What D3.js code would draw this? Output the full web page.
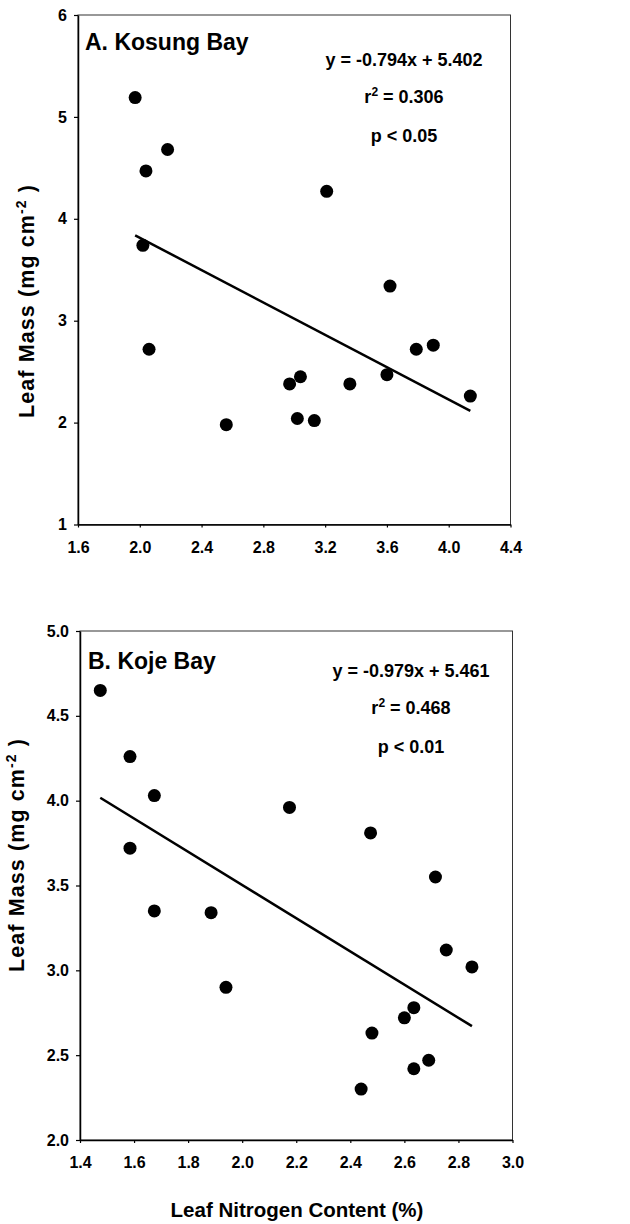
<!DOCTYPE html>
<html>
<head>
<meta charset="utf-8">
<script src="https://cdn.jsdelivr.net/npm/d3@7/dist/d3.min.js"></script>
<style>
  html, body { margin: 0; padding: 0; background: #fff; }
  svg { display: block; }
  text { font-family: "Liberation Sans", Arial, Helvetica, sans-serif; font-weight: bold; fill: #000; }
</style>
</head>
<body>
<svg id="chart" width="630" height="1224"></svg>
<script>
// ---- Data ----
const kosungNitrogen = [1.97, 2.04, 2.18, 2.02, 3.21, 3.62, 2.06, 2.56, 2.97, 3.04, 3.02, 3.13, 3.36, 3.60, 3.79, 3.90, 4.14];
const kosungMass     = [5.19, 4.47, 4.68, 3.74, 4.27, 3.34, 2.72, 1.98, 2.38, 2.45, 2.04, 2.02, 2.38, 2.47, 2.72, 2.76, 2.26];
const kojeNitrogen   = [1.475, 1.585, 1.675, 1.585, 2.175, 2.475, 2.715, 1.675, 1.885, 1.94, 2.755, 2.85, 2.635, 2.60, 2.48, 2.69, 2.635, 2.44];
const kojeMass       = [4.65, 4.26, 4.03, 3.72, 3.96, 3.81, 3.55, 3.35, 3.34, 2.90, 3.12, 3.02, 2.78, 2.72, 2.63, 2.47, 2.42, 2.30];

const panelTitles = ["A. Kosung Bay", "B. Koje Bay"];
const regSlopes = [-0.794, -0.979];
const regIntercepts = [5.402, 5.461];
const eqLabels = ["y = -0.794x + 5.402", "y = -0.979x + 5.461"];
const r2Values = ["0.306", "0.468"];
const pLabels = ["p < 0.05", "p < 0.01"];

const kosungXTicks = [1.6, 2.0, 2.4, 2.8, 3.2, 3.6, 4.0, 4.4];
const kosungYTicks = [1, 2, 3, 4, 5, 6];
const kojeXTicks = [1.4, 1.6, 1.8, 2.0, 2.2, 2.4, 2.6, 2.8, 3.0];
const kojeYTicks = [2.0, 2.5, 3.0, 3.5, 4.0, 4.5, 5.0];

const xTitle = "Leaf Nitrogen Content (%)";

// ---- Layout ----
const svg = d3.select("#chart");

const panels = [
  { x: kosungNitrogen, y: kosungMass, xTicks: kosungXTicks, yTicks: kosungYTicks,
    xDom: [1.6, 4.4], yDom: [1, 6], left: 78, right: 510.5, top: 15, bottom: 524.5,
    yFmt: d3.format("d"), titlePos: [85, 50], statX: 404, statY: [65.5, 102.5, 141.5],
    yTitleX: 34, yTitleY: 301 },
  { x: kojeNitrogen, y: kojeMass, xTicks: kojeXTicks, yTicks: kojeYTicks,
    xDom: [1.4, 3.0], yDom: [2.0, 5.0], left: 80, right: 512.5, top: 631, bottom: 1140,
    yFmt: d3.format(".1f"), titlePos: [88, 669], statX: 411, statY: [676.5, 714, 752.5],
    yTitleX: 24, yTitleY: 855 }
];

panels.forEach((p, i) => {
  const xs = d3.scaleLinear().domain(p.xDom).range([p.left, p.right]);
  const ys = d3.scaleLinear().domain(p.yDom).range([p.bottom, p.top]);
  const g = svg.append("g");

  // frame (top/right thin)
  g.append("rect")
    .attr("x", p.left).attr("y", p.top)
    .attr("width", p.right - p.left).attr("height", p.bottom - p.top)
    .attr("fill", "none").attr("stroke", "#333").attr("stroke-width", 1);

  // axes
  const xAxis = d3.axisBottom(xs).tickValues(p.xTicks).tickFormat(d3.format(".1f"))
    .tickSizeInner(3).tickSizeOuter(0).tickPadding(14);
  const yAxis = d3.axisLeft(ys).tickValues(p.yTicks).tickFormat(p.yFmt)
    .tickSizeInner(4).tickSizeOuter(0).tickPadding(7);

  const gx = g.append("g").attr("transform", `translate(0,${p.bottom})`).call(xAxis);
  const gy = g.append("g").attr("transform", `translate(${p.left},0)`).call(yAxis);
  [gx, gy].forEach(a => {
    a.select(".domain").attr("stroke", "#000").attr("stroke-width", 1.5);
    a.selectAll(".tick line").attr("stroke", "#000").attr("stroke-width", 1.2);
    a.selectAll(".tick text")
      .attr("fill", "#000")
      .style("font-family", '"Liberation Sans", Arial, sans-serif')
      .style("font-weight", "bold")
      .style("font-size", "16px");
  });

  // regression line across the data's range
  const xExt = d3.extent(p.x);
  const slope = regSlopes[i], icpt = regIntercepts[i];
  g.append("line")
    .attr("x1", xs(xExt[0])).attr("y1", ys(slope * xExt[0] + icpt))
    .attr("x2", xs(xExt[1])).attr("y2", ys(slope * xExt[1] + icpt))
    .attr("stroke", "#000").attr("stroke-width", 2.5);

  // points
  g.selectAll("circle.pt").data(d3.range(p.x.length)).join("circle")
    .attr("class", "pt")
    .attr("cx", k => xs(p.x[k])).attr("cy", k => ys(p.y[k]))
    .attr("r", 6.5).attr("fill", "#000");

  // panel title
  g.append("text").attr("x", p.titlePos[0]).attr("y", p.titlePos[1])
    .style("font-size", "23px").text(panelTitles[i]);

  // stats
  g.append("text").attr("x", p.statX).attr("y", p.statY[0]).attr("text-anchor", "middle")
    .style("font-size", "18px").text(eqLabels[i]);
  const r2 = g.append("text").attr("x", p.statX).attr("y", p.statY[1]).attr("text-anchor", "middle")
    .style("font-size", "18px");
  r2.append("tspan").text("r");
  r2.append("tspan").attr("dy", -7).style("font-size", "12px").text("2");
  r2.append("tspan").attr("dy", 7).text(" = " + r2Values[i]);
  g.append("text").attr("x", p.statX).attr("y", p.statY[2]).attr("text-anchor", "middle")
    .style("font-size", "18px").text(pLabels[i]);

  // y title
  const yt = g.append("text")
    .attr("transform", `translate(${p.yTitleX},${p.yTitleY}) rotate(-90)`)
    .attr("text-anchor", "middle")
    .style("font-size", "21.5px");
  yt.append("tspan").text("Leaf Mass (mg cm");
  yt.append("tspan").attr("dy", -8).style("font-size", "14px").text("-2");
  yt.append("tspan").attr("dy", 8).text(" )");
  const len = yt.node().getComputedTextLength();
  const target = 234;
  const nch = "Leaf Mass (mg cm-2 )".length;
  yt.style("letter-spacing", Math.max(0, (target - len) / nch) + "px");
});

// x title
svg.append("text").attr("x", 297).attr("y", 1217).attr("text-anchor", "middle")
  .style("font-size", "20.5px").text(xTitle);
</script>
</body>
</html>
